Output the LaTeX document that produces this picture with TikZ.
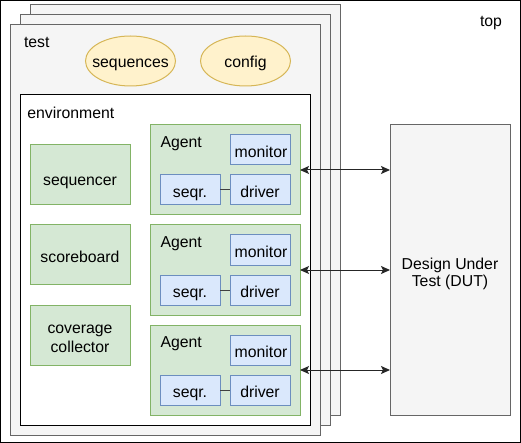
\documentclass[tikz,border=0pt]{standalone}
\usepackage{fontspec}
\setmainfont{Liberation Sans}
\usetikzlibrary{arrows.meta,shapes.geometric}
\definecolor{gfill}{HTML}{D5E8D4}
\definecolor{gdraw}{HTML}{82B366}
\definecolor{bfill}{HTML}{DAE8FC}
\definecolor{bdraw}{HTML}{6C8EBF}
\definecolor{yfill}{HTML}{FFF2CC}
\definecolor{ydraw}{HTML}{D6B656}
\definecolor{lgfill}{HTML}{F5F5F5}
\definecolor{lgdraw}{HTML}{666666}
\tikzset{
  base/.style={rectangle, inner sep=0pt, outer sep=0pt, line width=1pt},
  testbox/.style={base, fill=lgfill, draw=lgdraw, minimum width=310pt, minimum height=410pt},
  greenbox/.style={base, fill=gfill, draw=gdraw},
  bluebox/.style={base, fill=bfill, draw=bdraw, minimum width=60pt, minimum height=30pt},
  oval/.style={ellipse, inner sep=0pt, outer sep=0pt, line width=1pt, fill=yfill, draw=ydraw, minimum width=90pt, minimum height=50pt},
  txt/.style={inner sep=0pt, outer sep=0pt, anchor=base, font=\fontsize{15.8}{19}\selectfont},
  ltxt/.style={txt, anchor=base west},
  link/.style={line width=1pt, draw=black!85, {Stealth[length=9pt,width=8pt,inset=2pt]}-{Stealth[length=9pt,width=8pt,inset=2pt]}}
}
\begin{document}
\begin{tikzpicture}[x=1pt,y=-1pt]
\useasboundingbox (0,0) rectangle (521,443);
\node[base, draw=black, fill=white, minimum width=520pt, minimum height=442pt] (top) at (260.5,221.5) {};
\node[ltxt] (toplbl) at (480,26.7) {top};
% test stack
\node[testbox] (test3) at (185,210) {};
\node[testbox] (test2) at (175,220) {};
\node[testbox] (test1) at (165,230) {};
\node[ltxt] (testlbl) at (24,47.3) {test};
\node[oval] (seqs) at (130.5,61) {};
\node[txt] (seqst) at (130.5,67.5) {sequences};
\node[oval] (config) at (245.5,61) {};
\node[txt] (configt) at (245.5,67.5) {config};
% environment
\node[base, draw=black, fill=white, minimum width=290pt, minimum height=330pt] (env) at (165,260) {};
\node[ltxt] (envlbl) at (27.3,118.3) {environment};
\node[greenbox, minimum width=100pt, minimum height=60pt] (sequencer) at (80,174.5) {};
\node[txt] (sequencert) at (80,185.5) {sequencer};
\node[greenbox, minimum width=100pt, minimum height=60pt] (scoreboard) at (80,254.5) {};
\node[txt] (scoreboardt) at (80,262.7) {scoreboard};
\node[greenbox, minimum width=100pt, minimum height=60pt] (coverage) at (80,335) {};
\node[txt] (coveraget1) at (80,333.5) {coverage};
\node[txt] (coveraget2) at (80,352.5) {collector};
% agents
\foreach \i/\y in {1/170,2/270,3/370}{
  \node[greenbox, minimum width=150pt, minimum height=90pt] (agent\i) at (225,\y) {};
  \node[ltxt] (agentlbl\i) at (160.5,\y-22.5) {Agent};
  \node[bluebox] (mon\i) at (260,\y-20) {};
  \node[txt] (mont\i) at (261,\y-12.3) {monitor};
  \node[bluebox] (seqr\i) at (190,\y+20) {};
  \node[txt] (seqrt\i) at (190,\y+27.7) {seqr.};
  \node[bluebox] (drv\i) at (260,\y+20) {};
  \node[txt] (drvt\i) at (260,\y+27.7) {driver};
  \draw[line width=1pt, black!75] (seqr\i) -- (drv\i);
}
% DUT
\node[base, fill=lgfill, draw=lgdraw, minimum width=120pt, minimum height=290pt] (dut) at (450,270) {};
\node[txt] (dutt1) at (450,269.3) {Design Under};
\node[txt] (dutt2) at (450,286.7) {Test (DUT)};
\foreach \i in {1,2,3}{
  \draw[link] (agent\i.east) -- (dut.west |- agent\i.east);
}
\end{tikzpicture}
\end{document}
